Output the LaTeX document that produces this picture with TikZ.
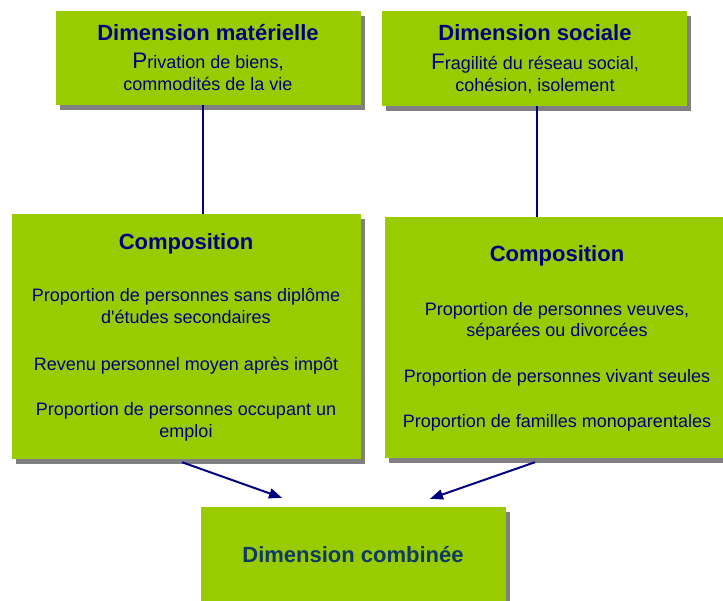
\documentclass[tikz,border=0pt]{standalone}
\usepackage{fontspec}
\setmainfont{Liberation Sans}
\usetikzlibrary{shadows,arrows.meta}
\definecolor{boxgreen}{HTML}{99CC00}
\definecolor{navy}{HTML}{000080}
\definecolor{darkslate}{HTML}{0F3A68}
\newcommand{\initcap}[1]{{\fontsize{22.5}{26}\selectfont #1}}
\begin{document}
\begin{tikzpicture}[x=1pt,y=-1pt,
  box/.style={fill=boxgreen, draw=none, inner sep=0pt,
    drop shadow={shadow xshift=4pt, shadow yshift=-5pt, fill=gray, opacity=1}},
  ttl/.style={font=\fontsize{22}{26}\selectfont\bfseries, text=navy, anchor=base, inner sep=0pt},
  txt/.style={font=\fontsize{18}{21}\selectfont, text=navy, anchor=base, inner sep=0pt},
  conn/.style={draw=navy, line width=1.2pt},
  arr/.style={draw=navy, line width=2pt, -{Triangle[length=13pt,width=10pt]}}]
\useasboundingbox (0,0) rectangle (723,601);
% boxes
\node[box, minimum width=305pt, minimum height=94pt] (m1) at (208.5,58) {};
\node[box, minimum width=305pt, minimum height=95pt] (m2) at (534.5,58.5) {};
\node[box, minimum width=349pt, minimum height=245pt] (c3) at (186.5,336.5) {};
\node[box, minimum width=343pt, minimum height=241pt] (c4) at (556.5,337.5) {};
\node[box, minimum width=305pt, minimum height=96pt] (dc) at (353.5,555) {};
% box 1 text
\node[ttl] (m1t) at (208,41) {Dimension matérielle};
\node[txt] (m1a) at (208,69) {\initcap{P}rivation de biens,};
\node[txt] (m1b) at (208,91) {commodités de la vie};
% box 2 text
\node[ttl] (m2t) at (535,41) {Dimension sociale};
\node[txt] (m2a) at (535,70) {\initcap{F}ragilité du réseau social,};
\node[txt] (m2b) at (535,92) {cohésion, isolement};
% box 3 text
\node[ttl] (c3t) at (186,250) {Composition};
\node[txt] (c3a) at (186,302) {Proportion de personnes sans diplôme};
\node[txt] (c3b) at (186,324) {d\textquotesingle études secondaires};
\node[txt] (c3c) at (186,371) {Revenu personnel moyen après impôt};
\node[txt] (c3d) at (186,416) {Proportion de personnes occupant un};
\node[txt] (c3e) at (186,438) {emploi};
% box 4 text
\node[ttl] (c4t) at (557,262) {Composition};
\node[txt] (c4a) at (557,316) {Proportion de personnes veuves,};
\node[txt] (c4b) at (557,337) {séparées ou divorcées};
\node[txt] (c4c) at (557,383) {Proportion de personnes vivant seules};
\node[txt] (c4d) at (557,428) {Proportion de familles monoparentales};
% box 5 text
\node[ttl, text=darkslate] (dct) at (353,562) {Dimension combinée};
% connectors
\draw[conn] ([xshift=-5.5pt]m1.south) -- ([xshift=-5.5pt]m1.south |- c3.north);
\draw[conn] ([xshift=2.5pt]m2.south) -- ([xshift=2.5pt]m2.south |- c4.north);
\draw[arr] ([xshift=-4.5pt,yshift=-3pt]c3.south) -- ([xshift=-71.5pt,yshift=9pt]dc.north);
\draw[arr] ([xshift=-21.5pt,yshift=-4pt]c4.south) -- ([xshift=76.5pt,yshift=8pt]dc.north);
\end{tikzpicture}
\end{document}
